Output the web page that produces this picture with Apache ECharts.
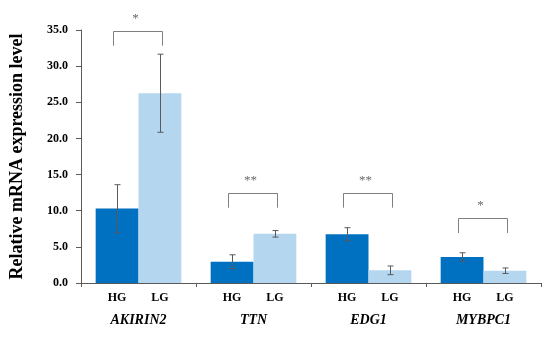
<!DOCTYPE html>
<html>
<head>
<meta charset="utf-8">
<script src="https://cdn.jsdelivr.net/npm/echarts@6/dist/echarts.min.js"></script>
<style>html,body{margin:0;padding:0;background:#fff;}#c{width:550px;height:338px;}</style>
</head>
<body>
<div id="c"></div>
<script>
const categories = ['AKIRIN2', 'TTN', 'EDG1', 'MYBPC1'];
const hgMean = [10.3, 2.95, 6.75, 3.6];
const hgErr = [3.3, 0.95, 0.9, 0.58];
const lgMean = [26.25, 6.8, 1.75, 1.7];
const lgErr = [5.4, 0.45, 0.6, 0.38];
const sigLevel = [34.9, 12.5, 12.5, 9.0];
const sigMark = ['*', '**', '**', '*'];
const yTicks = [0, 5, 10, 15, 20, 25, 30, 35];

const chart = echarts.init(document.getElementById('c'), null, {renderer: 'canvas'});
const serif = '"Liberation Serif", "Times New Roman", serif';
const barGapRatio = 0.255;

function renderExtras(params, api) {
  const i = params.dataIndex;
  const band = api.size([1, 0])[0];
  const c = api.coord([i, 0]);
  const off = band * (1 - barGapRatio) / 4;
  const children = [];
  const errStyle = {stroke: '#5a5a5a', lineWidth: 1};
  [[hgMean[i], hgErr[i], c[0] - off], [lgMean[i], lgErr[i], c[0] + off]].forEach(function (d) {
    const yt = api.coord([i, d[0] + d[1]])[1];
    const yb = api.coord([i, d[0] - d[1]])[1];
    const x = Math.round(d[2]) + 0.5;
    children.push({type: 'line', shape: {x1: x, y1: yt, x2: x, y2: yb}, style: errStyle});
    children.push({type: 'line', shape: {x1: x - 3, y1: yt, x2: x + 3, y2: yt}, style: errStyle});
    children.push({type: 'line', shape: {x1: x - 3, y1: yb, x2: x + 3, y2: yb}, style: errStyle});
  });
  const y1 = Math.round(api.coord([i, sigLevel[i]])[1]) + 0.5;
  const y2 = api.coord([i, sigLevel[i] - 2.08])[1];
  const xl = Math.round(c[0] - band * 0.22) + 0.5;
  const xr = Math.round(c[0] + band * 0.205) + 0.5;
  children.push({type: 'polyline', shape: {points: [[xl, y2], [xl, y1], [xr, y1], [xr, y2]]},
    style: {stroke: '#7f7f7f', lineWidth: 1, fill: null}});
  children.push({type: 'text', x: c[0] - 3, y: y1 - 13,
    style: {text: sigMark[i], font: '13px ' + serif, fill: '#6a6a6a', align: 'center', verticalAlign: 'middle'}});
  return {type: 'group', children: children};
}

chart.setOption({
  animation: false,
  backgroundColor: '#fff',
  grid: {left: 79, right: 9, top: 30, bottom: 55, containLabel: false},
  xAxis: {
    type: 'category',
    data: categories,
    axisLine: {lineStyle: {color: '#5a5a5a', width: 1}},
    axisTick: {show: true, length: 4, lineStyle: {color: '#5a5a5a'}},
    axisLabel: {margin: 30, fontFamily: serif, fontSize: 14, fontWeight: 'bold', fontStyle: 'italic', color: '#000'}
  },
  yAxis: {
    type: 'value',
    min: 0, max: 35, interval: 5,
    name: 'Relative mRNA expression level',
    nameLocation: 'middle',
    nameGap: 55,
    nameTextStyle: {fontFamily: serif, fontSize: 18, fontWeight: 'bold', color: '#000'},
    splitLine: {show: false},
    axisLine: {show: true, lineStyle: {color: '#5a5a5a', width: 1}},
    axisTick: {show: true, length: 5, lineStyle: {color: '#5a5a5a'}},
    axisLabel: {margin: 13, fontFamily: serif, fontSize: 12, fontWeight: 'bold', color: '#000',
      formatter: function (v) { return yTicks.indexOf(v) >= 0 ? v.toFixed(1) : ''; }}
  },
  series: [
    {type: 'bar', name: 'HG', data: hgMean, barGap: '0%', barCategoryGap: (barGapRatio * 100) + '%',
      itemStyle: {color: '#0070C0'},
      label: {show: true, position: 'bottom', distance: 9, formatter: 'HG', fontFamily: serif, fontSize: 12, fontWeight: 'bold', color: '#000'}},
    {type: 'bar', name: 'LG', data: lgMean, barGap: '0%', barCategoryGap: (barGapRatio * 100) + '%',
      itemStyle: {color: '#B5D6EF'},
      label: {show: true, position: 'bottom', distance: 9, formatter: 'LG', fontFamily: serif, fontSize: 12, fontWeight: 'bold', color: '#000'}},
    {type: 'custom', name: 'extras', data: categories.map(function (c, i) { return [i, 0]; }),
      renderItem: renderExtras, clip: false, z: 10, silent: true}
  ]
});
</script>
</body>
</html>
